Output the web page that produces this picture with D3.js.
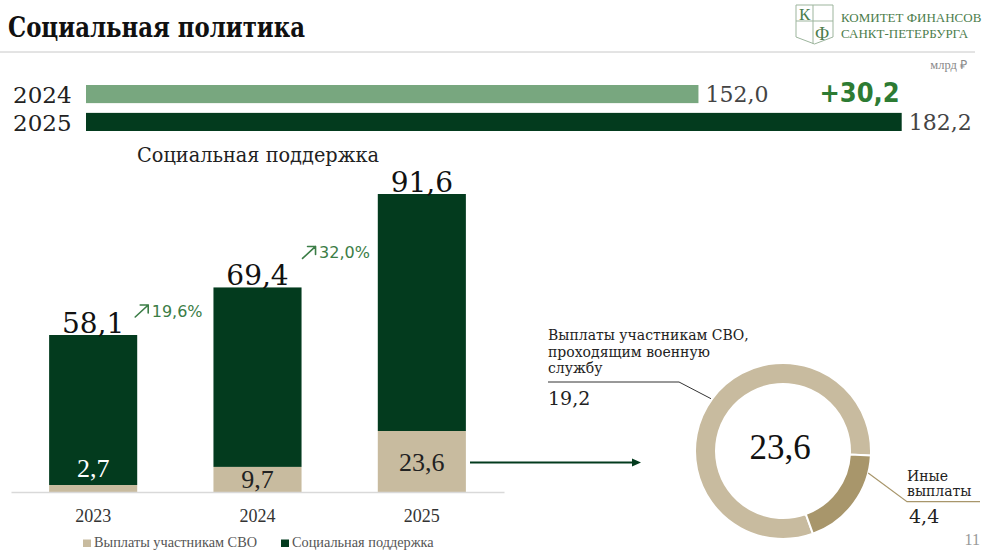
<!DOCTYPE html>
<html><head><meta charset="utf-8">
<script src="https://cdn.jsdelivr.net/npm/d3@7"></script>
<style>body{margin:0;background:#fff}svg{display:block}</style>
</head><body>
<script>
// ---------- DATA ----------
const topYears = ["2024", "2025"];
const topValues = [152.0, 182.2];
const topDelta = 30.2;
const years = ["2023", "2024", "2025"];
const supportTotals = [58.1, 69.4, 91.6];
const svoValues = [2.7, 9.7, 23.6];
const growthPct = [19.6, 32.0];
const donutNames = ["Выплаты участникам СВО, проходящим военную службу", "Иные выплаты"];
const donutValues = [19.2, 4.4];
const donutTotal = 23.6;
const legendLabels = ["Выплаты участникам СВО", "Социальная поддержка"];

// ---------- STYLE ----------
const C = {
  lightGreen: "#78a77f", darkGreen: "#033b1e", beige: "#c8bb9f", beigeDark: "#a8966b",
  growth: "#3b7d46", delta: "#2d7b33", text: "#1a1a1a", grey: "#444"
};
const FD = "'DejaVu Serif', serif";
const FL = "'Liberation Serif', 'Times New Roman', serif";
const FS = "'DejaVu Sans', sans-serif";
const fmt = v => d3.format(".1f")(v).replace(".", ",");

const W = 990, H = 557;
const svg = d3.select("body").append("svg").attr("width", W).attr("height", H);
svg.append("rect").attr("width", W).attr("height", H).attr("fill", "#fff");

// ---------- HEADER ----------
svg.append("text").attr("x", 8).attr("y", 36.7)
  .attr("font-family", "'DejaVu Serif Condensed', 'DejaVu Serif', serif").attr("font-stretch", "condensed")
  .attr("font-weight", "bold").attr("font-size", 27)
  .attr("textLength", 297).attr("lengthAdjust", "spacingAndGlyphs")
  .attr("fill", "#111").text("Социальная политика");
svg.append("line").attr("x1", 0).attr("x2", 975).attr("y1", 52).attr("y2", 52)
  .attr("stroke", "#c8c8c8").attr("stroke-width", 1);

// logo
const logo = svg.append("g");
logo.append("path").attr("d", "M796,5 L833,5 L833,37 L814.5,44 L796,37 Z")
  .attr("fill", "none").attr("stroke", "#9db59d").attr("stroke-width", 1);
logo.append("line").attr("x1", 813).attr("x2", 813).attr("y1", 5).attr("y2", 44).attr("stroke", "#9db59d");
logo.append("line").attr("x1", 796).attr("x2", 833).attr("y1", 21).attr("y2", 21).attr("stroke", "#9db59d");
logo.append("text").attr("x", 799).attr("y", 20).attr("font-family", FL).attr("font-size", 17)
  .attr("fill", "#4c7d4c").text("К");
logo.append("text").attr("x", 815).attr("y", 40).attr("font-family", FL).attr("font-size", 18)
  .attr("fill", "#4c7d4c").text("Ф");
logo.append("text").attr("x", 841).attr("y", 22).attr("font-family", FL).attr("font-size", 13)
  .attr("fill", "#4c7d4c").text("КОМИТЕТ ФИНАНСОВ");
logo.append("text").attr("x", 841).attr("y", 37.5).attr("font-family", FL).attr("font-size", 13)
  .attr("fill", "#4c7d4c").text("САНКТ-ПЕТЕРБУРГА");

svg.append("text").attr("x", 967).attr("y", 69).attr("text-anchor", "end")
  .attr("font-family", FL).attr("font-size", 12.5).attr("fill", "#888").text("млрд ₽");

// ---------- TOP HORIZONTAL BARS ----------
const xTop = d3.scaleLinear().domain([61, 182.2]).range([86, 901.7]);
const yTop = d3.scaleBand().domain(topYears).range([85, 131]).paddingInner(0.35).paddingOuter(0);
const topColors = [C.lightGreen, C.darkGreen];
svg.append("g").selectAll("rect").data(topValues).join("rect")
  .attr("x", xTop(61)).attr("y", (d, i) => yTop(topYears[i]))
  .attr("width", d => xTop(d) - xTop(61)).attr("height", yTop.bandwidth())
  .attr("fill", (d, i) => topColors[i]);
svg.append("g").selectAll("text").data(topYears).join("text")
  .attr("x", 13).attr("y", d => yTop(d) + yTop.bandwidth())
  .attr("font-family", FD).attr("font-size", 23).attr("fill", "#222").text(d => d);
svg.append("g").selectAll("text").data(topValues).join("text")
  .attr("x", d => xTop(d) + 7).attr("y", (d, i) => yTop(topYears[i]) + yTop.bandwidth() - 1)
  .attr("font-family", FD).attr("font-size", 22).attr("fill", C.grey).text(d => fmt(d));
svg.append("text").attr("x", xTop(topValues[1]) - 2)
  .attr("y", yTop(topYears[0]) + yTop.bandwidth() - 1).attr("text-anchor", "end")
  .attr("font-family", "'DejaVu Sans Condensed', 'DejaVu Sans', sans-serif").attr("font-stretch", "condensed")
  .attr("font-weight", "bold").attr("font-size", 27).attr("fill", C.delta).text("+" + fmt(topDelta));

// ---------- STACKED BARS ----------
svg.append("text").attr("x", 137).attr("y", 162).attr("font-family", FD).attr("font-size", 19.5)
  .attr("textLength", 242).attr("lengthAdjust", "spacingAndGlyphs")
  .attr("fill", "#222").text("Социальная поддержка");

const base = 492;
const xB = d3.scaleBand().domain(years).range([11, 504]).paddingInner(0.464).paddingOuter(0.232);
const yTot = d3.scaleLinear().domain([20.8, 91.6]).range([base, 194]);
const ySeg = d3.scaleLinear().domain([0, 23.6]).range([base, 431]);

const bars = svg.append("g");
bars.selectAll("rect.tot").data(supportTotals).join("rect").attr("class", "tot")
  .attr("x", (d, i) => xB(years[i])).attr("width", xB.bandwidth())
  .attr("y", d => yTot(d)).attr("height", (d, i) => ySeg(svoValues[i]) - yTot(d))
  .attr("fill", C.darkGreen);
bars.selectAll("rect.svo").data(svoValues).join("rect").attr("class", "svo")
  .attr("x", (d, i) => xB(years[i])).attr("width", xB.bandwidth())
  .attr("y", d => ySeg(d)).attr("height", d => base - ySeg(d))
  .attr("fill", C.beige);

const xAxis = d3.axisBottom(xB).tickSize(0).tickPadding(17).tickSizeOuter(0);
const ax = svg.append("g").attr("transform", `translate(0,${base})`).call(xAxis);
ax.select(".domain").attr("stroke", "#d9d9d9").attr("stroke-width", 1.5);
ax.selectAll("text").attr("font-family", FL).attr("font-size", 18).attr("fill", "#333");

bars.selectAll("text.tot").data(supportTotals).join("text").attr("class", "tot")
  .attr("x", (d, i) => xB(years[i]) + xB.bandwidth() / 2).attr("y", d => yTot(d) - 2)
  .attr("text-anchor", "middle").attr("font-family", FD).attr("font-size", 28)
  .attr("fill", "#111").text(d => fmt(d));

bars.selectAll("text.svo").data(svoValues).join("text").attr("class", "svo")
  .attr("x", (d, i) => xB(years[i]) + xB.bandwidth() / 2)
  .attr("y", d => {
    const h = base - ySeg(d);
    if (h < 15) return ySeg(d) - 8;
    if (h < 40) return base - 4;
    return (ySeg(d) + base) / 2 + 9;
  })
  .attr("fill", d => (base - ySeg(d) < 15 ? "#fff" : "#222"))
  .attr("text-anchor", "middle").attr("font-family", FL).attr("font-size", 26)
  .text(d => fmt(d));

// growth labels with drawn arrows
const growthDy = [-18, -29];
const gg = svg.append("g").selectAll("g").data(growthPct).join("g")
  .attr("transform", (d, i) => `translate(${xB(years[i]) + xB.bandwidth() - 3 + i * 3},${yTot(supportTotals[i]) + growthDy[i]})`);
gg.append("path").attr("d", "M1,0 L14,-12 M6,-12 H14 V-4")
  .attr("fill", "none").attr("stroke", C.growth).attr("stroke-width", 1.6)
  .attr("stroke-linecap", "round").attr("stroke-linejoin", "round");
gg.append("text").attr("x", 17.5).attr("y", 0)
  .attr("font-family", FS).attr("font-size", 16).attr("fill", C.growth)
  .text(d => fmt(d) + "%");

// legend
const lg = svg.append("g");
const legX = [83, 281], legC = [C.beige, C.darkGreen];
legendLabels.forEach((t, i) => {
  lg.append("rect").attr("x", legX[i]).attr("y", 539.5).attr("width", 8).attr("height", 7.5).attr("fill", legC[i]);
  lg.append("text").attr("x", legX[i] + 11).attr("y", 547).attr("font-family", FL)
    .attr("font-size", 14.3).attr("fill", "#555").text(t);
});

// arrow
svg.append("line").attr("x1", 470).attr("x2", 633).attr("y1", 462.5).attr("y2", 462.5)
  .attr("stroke", C.darkGreen).attr("stroke-width", 2);
svg.append("path").attr("d", "M641,462.5 L632,458.5 L632,466.5 Z").attr("fill", C.darkGreen);

// ---------- DONUT ----------
const cx = 783, cy = 451, rO = 88, rI = 67;
const dg = svg.append("g").attr("transform", `translate(${cx},${cy})`);
const a0 = 93 * Math.PI / 180 - 2 * Math.PI * donutValues[0] / d3.sum(donutValues);
const pie = d3.pie().sort(null).value(d => d).startAngle(a0).endAngle(a0 + 2 * Math.PI);
const arc = d3.arc().innerRadius(rI).outerRadius(rO);
const donutColors = [C.beige, C.beigeDark];
dg.selectAll("path").data(pie(donutValues)).join("path")
  .attr("d", arc).attr("fill", (d, i) => donutColors[i]).attr("stroke", "#fff").attr("stroke-width", 2);
dg.append("text").attr("x", -3).attr("y", 7.5).attr("text-anchor", "middle")
  .attr("font-family", FL).attr("font-size", 35).attr("fill", "#111").text(fmt(donutTotal));

// leader SVO
const p1 = d3.pointRadial(306 * Math.PI / 180, rO + 1);
svg.append("path").attr("d", `M548,382 H679 L${cx + p1[0]},${cy + p1[1]}`)
  .attr("fill", "none").attr("stroke", "#333").attr("stroke-width", 1);
const svoLines = ["Выплаты участникам СВО,", "проходящим военную", "службу"];
svg.append("g").selectAll("text").data(svoLines).join("text")
  .attr("x", 548).attr("y", (d, i) => 340 + i * 16.5).attr("font-family", FD).attr("font-size", 14)
  .attr("fill", "#222").text(d => d);
svg.append("text").attr("x", 548).attr("y", 405).attr("font-family", FD).attr("font-size", 19)
  .attr("fill", "#222").text(fmt(donutValues[0]));

// leader other
const p2 = d3.pointRadial(104.5 * Math.PI / 180, rO);
svg.append("path").attr("d", `M${cx + p2[0]},${cy + p2[1]} L907,501.7 H980`)
  .attr("fill", "none").attr("stroke", C.beigeDark).attr("stroke-width", 1.2);
const otherLines = ["Иные", "выплаты"];
svg.append("g").selectAll("text").data(otherLines).join("text")
  .attr("x", 907).attr("y", (d, i) => 480.7 + i * 15.5).attr("font-family", FD).attr("font-size", 14)
  .attr("fill", "#222").text(d => d);
svg.append("text").attr("x", 909).attr("y", 523).attr("font-family", FD).attr("font-size", 19)
  .attr("fill", "#222").text(fmt(donutValues[1]));

// page number
svg.append("text").attr("x", 980).attr("y", 545).attr("text-anchor", "end")
  .attr("font-family", FL).attr("font-size", 16).attr("fill", "#999").text("11");
</script>
</body></html>
